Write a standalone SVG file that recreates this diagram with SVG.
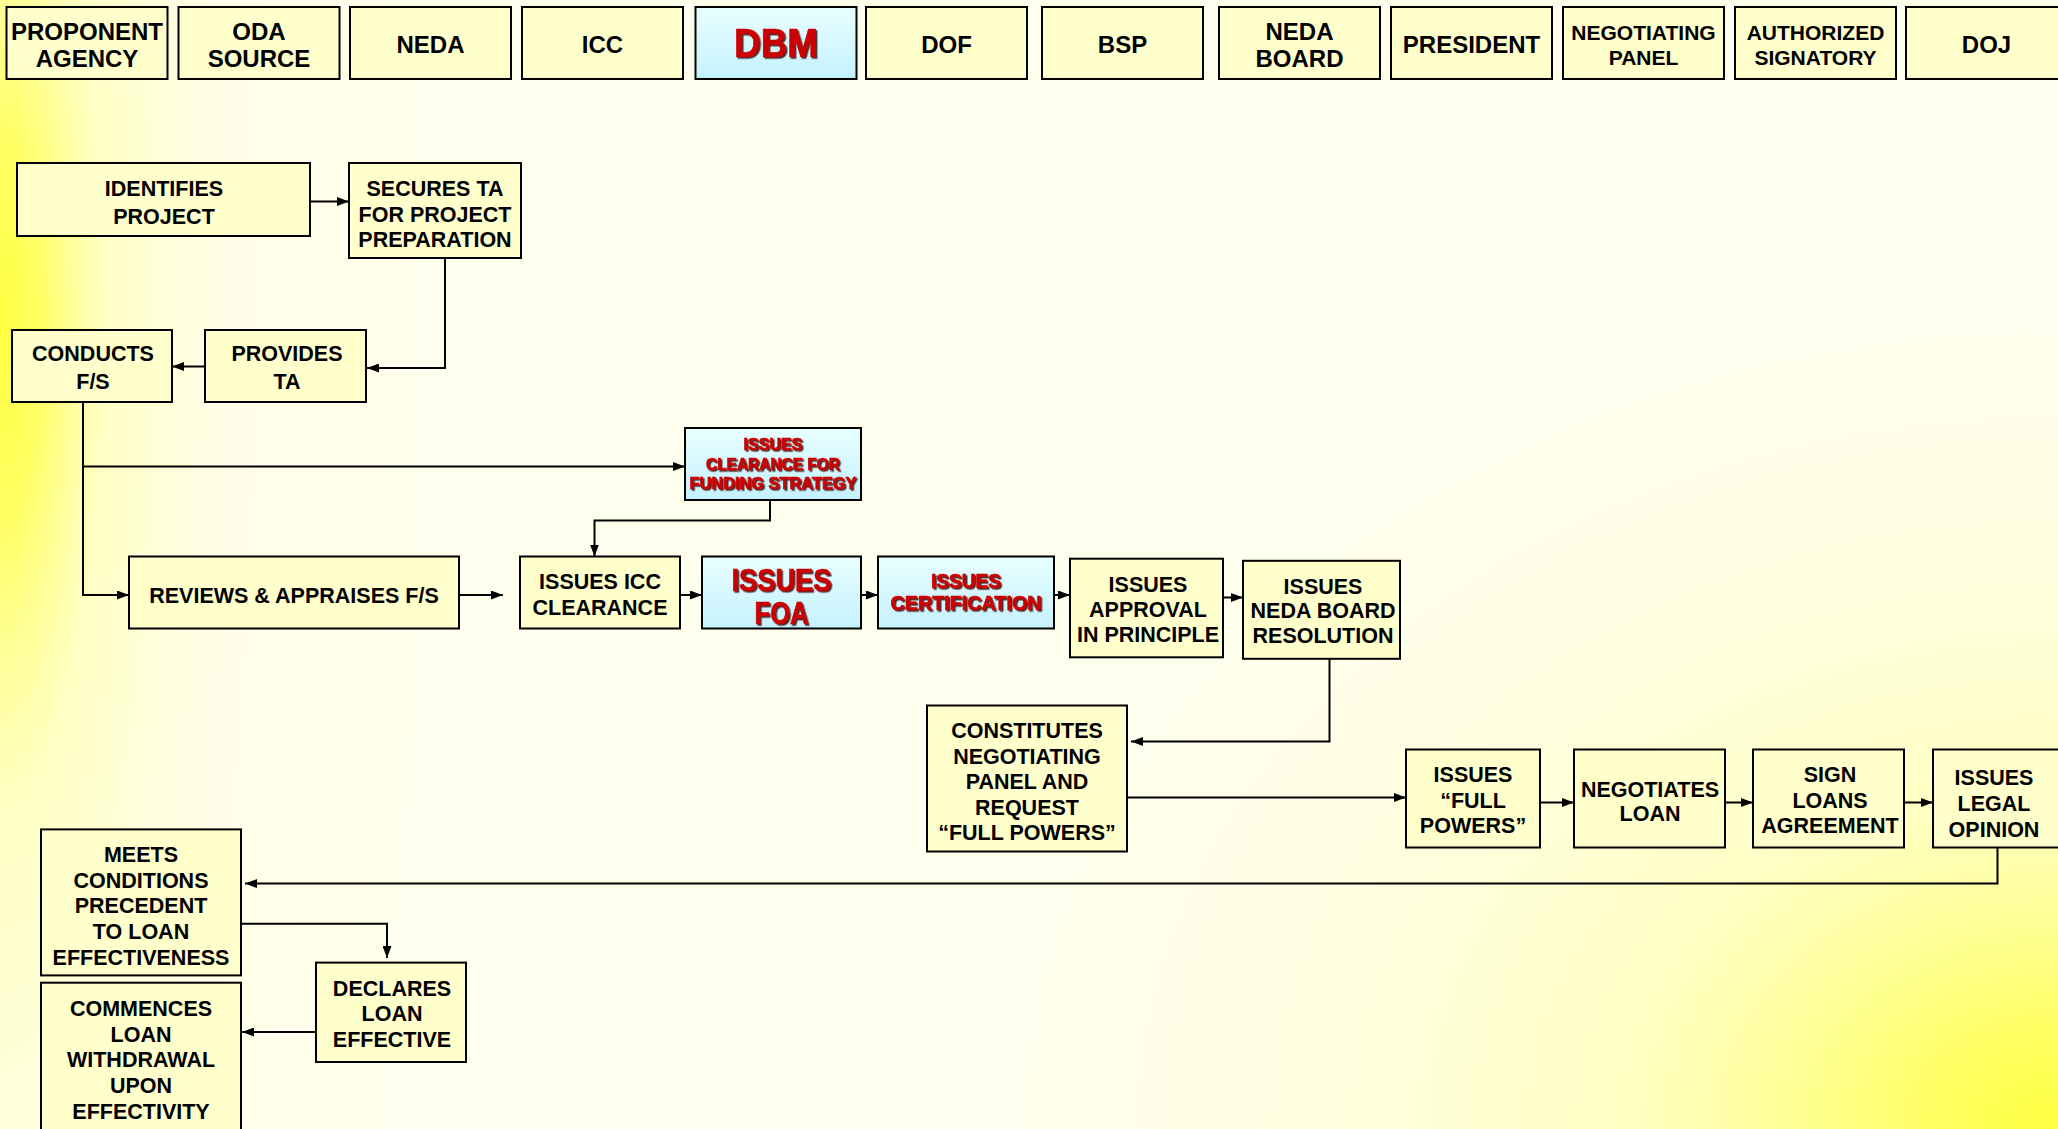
<svg xmlns="http://www.w3.org/2000/svg" width="2058" height="1129" viewBox="0 0 2058 1129">
<defs>
<radialGradient id="bgA" gradientUnits="userSpaceOnUse" cx="0" cy="0" r="1" gradientTransform="translate(0,330) scale(520,2400)">
<stop offset="0" stop-color="#FFFF40" stop-opacity="1"/>
<stop offset="0.08" stop-color="#FFFF55" stop-opacity="0.9"/>
<stop offset="0.2" stop-color="#FFFF99" stop-opacity="0.5"/>
<stop offset="0.45" stop-color="#FFFFCC" stop-opacity="0.15"/>
<stop offset="1" stop-color="#FFFFE0" stop-opacity="0"/>
</radialGradient>
<radialGradient id="bgB" gradientUnits="userSpaceOnUse" cx="0" cy="0" r="1" gradientTransform="translate(2058,1129) scale(1100,850)">
<stop offset="0" stop-color="#FFFF40" stop-opacity="1"/>
<stop offset="0.12" stop-color="#FFFF55" stop-opacity="0.9"/>
<stop offset="0.4" stop-color="#FFFF99" stop-opacity="0.5"/>
<stop offset="1" stop-color="#FFFFE0" stop-opacity="0"/>
</radialGradient>
<linearGradient id="blue" x1="0" y1="0" x2="0" y2="1">
<stop offset="0" stop-color="#E8FEFF"/>
<stop offset="1" stop-color="#C4F2FF"/>
</linearGradient>
<filter id="sh" x="-5%" y="-10%" width="115%" height="130%">
<feDropShadow dx="1.5" dy="1.5" stdDeviation="0.4" flood-color="#2a0000" flood-opacity="0.85"/>
</filter>
<marker id="ah" markerUnits="userSpaceOnUse" markerWidth="12" markerHeight="9" refX="12" refY="4.5" orient="auto">
<path d="M0,0 L12,4.5 L0,9 z" fill="#000"/>
</marker>
<style>
.box{fill:#FFFFCC;stroke:#000;stroke-width:2}
.bbox{fill:url(#blue);stroke:#000;stroke-width:2}
text{font-family:"Liberation Sans",Arial,Helvetica,sans-serif;font-weight:bold;text-anchor:middle;fill:#000}
.t{font-size:21.5px}
.h{font-size:24px}
.hs{font-size:21px}
.r{fill:#CC0000;stroke:#CC0000;stroke-width:0.7;filter:url(#sh)}
.c{fill:none;stroke:#000;stroke-width:2;marker-end:url(#ah)}
</style>
</defs>
<rect x="0" y="0" width="2058" height="1129" fill="#FFFFEE"/>
<rect x="0" y="0" width="2058" height="1129" fill="url(#bgA)"/>
<rect x="0" y="0" width="2058" height="1129" fill="url(#bgB)"/>

<g id="headers">
<g id="h-proponent"><rect class="box" x="6.5" y="7" width="161" height="72"/><text class="h" x="87" y="40" font-size="23.5">PROPONENT</text><text class="h" x="87" y="67">AGENCY</text></g>
<g id="h-oda"><rect class="box" x="178.5" y="7" width="161" height="72"/><text class="h" x="259" y="40">ODA</text><text class="h" x="259" y="67">SOURCE</text></g>
<g id="h-neda"><rect class="box" x="350" y="7" width="161" height="72"/><text class="h" x="430.5" y="52.6">NEDA</text></g>
<g id="h-icc"><rect class="box" x="522" y="7" width="161" height="72"/><text class="h" x="602.5" y="52.6">ICC</text></g>
<g id="h-dbm"><rect class="bbox" x="695.5" y="7" width="161" height="72"/><text class="r" x="776" y="57" style="font-size:41px" textLength="84" lengthAdjust="spacingAndGlyphs">DBM</text></g>
<g id="h-dof"><rect class="box" x="866" y="7" width="161" height="72"/><text class="h" x="946.5" y="52.6">DOF</text></g>
<g id="h-bsp"><rect class="box" x="1042" y="7" width="161" height="72"/><text class="h" x="1122.5" y="52.6">BSP</text></g>
<g id="h-nedaboard"><rect class="box" x="1219" y="7" width="161" height="72"/><text class="h" x="1299.5" y="40">NEDA</text><text class="h" x="1299.5" y="67">BOARD</text></g>
<g id="h-president"><rect class="box" x="1391" y="7" width="161" height="72"/><text class="h" x="1471.5" y="52.6">PRESIDENT</text></g>
<g id="h-negpanel"><rect class="box" x="1563" y="7" width="161" height="72"/><text class="hs" x="1643.5" y="40">NEGOTIATING</text><text class="hs" x="1643.5" y="65">PANEL</text></g>
<g id="h-authsig"><rect class="box" x="1735" y="7" width="161" height="72"/><text class="hs" x="1815.5" y="40">AUTHORIZED</text><text class="hs" x="1815.5" y="65">SIGNATORY</text></g>
<g id="h-doj"><rect class="box" x="1906" y="7" width="161" height="72"/><text class="h" x="1986.5" y="52.6">DOJ</text></g>
</g>

<g id="connectors">
<path class="c" d="M310,201.5 H349"/>
<path class="c" d="M445,258 V368 H367"/>
<path class="c" d="M205,366.5 H172"/>
<path class="c" d="M83,402 V595 H129"/>
<path class="c" d="M83,466.5 H685"/>
<path class="c" d="M770,500 V520.5 H594.5 V556.5"/>
<path class="c" d="M459,595 H503"/>
<path class="c" d="M680,595 H702"/>
<path class="c" d="M861,595 H878"/>
<path class="c" d="M1054,595 H1070"/>
<path class="c" d="M1223,597.5 H1243"/>
<path class="c" d="M1329.5,659 V741.5 H1131"/>
<path class="c" d="M1127,797.5 H1406"/>
<path class="c" d="M1540,802.5 H1574"/>
<path class="c" d="M1725,802.5 H1753"/>
<path class="c" d="M1904,802.5 H1933"/>
<path class="c" d="M1997.5,847.5 V883.5 H245"/>
<path class="c" d="M241,923.7 H387 V958"/>
<path class="c" d="M316,1032 H242"/>
</g>

<g id="n-identifies"><rect class="box" x="17" y="163" width="293" height="73"/><text class="t" x="164" y="195.7">IDENTIFIES</text><text class="t" x="164" y="223.7">PROJECT</text></g>
<g id="n-secures"><rect class="box" x="349" y="163" width="172" height="95"/><text class="t" x="435" y="196.3">SECURES TA</text><text class="t" x="435" y="221.5">FOR PROJECT</text><text class="t" x="435" y="246.7">PREPARATION</text></g>
<g id="n-provides"><rect class="box" x="205" y="330" width="161" height="72"/><text class="t" x="287" y="360.5">PROVIDES</text><text class="t" x="287" y="389.3">TA</text></g>
<g id="n-conducts"><rect class="box" x="12" y="330" width="160" height="72"/><text class="t" x="93" y="360.5">CONDUCTS</text><text class="t" x="93" y="389.3">F/S</text></g>
<g id="n-funding"><rect class="bbox" x="685" y="428" width="176" height="72"/><text class="r" x="773" y="449.5" style="font-size:17px" textLength="59" lengthAdjust="spacingAndGlyphs">ISSUES</text><text class="r" x="773" y="469.5" style="font-size:17px" textLength="134" lengthAdjust="spacingAndGlyphs">CLEARANCE FOR</text><text class="r" x="773" y="488.5" style="font-size:17px" textLength="167" lengthAdjust="spacingAndGlyphs">FUNDING STRATEGY</text></g>
<g id="n-reviews"><rect class="box" x="129" y="556.5" width="330" height="72"/><text class="t" x="294" y="603">REVIEWS &amp; APPRAISES F/S</text></g>
<g id="n-icc"><rect class="box" x="520" y="556.5" width="160" height="72"/><text class="t" x="600" y="589.4">ISSUES ICC</text><text class="t" x="600" y="614.7">CLEARANCE</text></g>
<g id="n-foa"><rect class="bbox" x="702" y="556.5" width="159" height="72"/><text class="r" x="781.5" y="591" style="font-size:31px" textLength="100" lengthAdjust="spacingAndGlyphs">ISSUES</text><text class="r" x="781.5" y="623.5" style="font-size:31px" textLength="54" lengthAdjust="spacingAndGlyphs">FOA</text></g>
<g id="n-cert"><rect class="bbox" x="878" y="556.5" width="176" height="72"/><text class="r" x="966" y="587.5" style="font-size:20px" textLength="70" lengthAdjust="spacingAndGlyphs">ISSUES</text><text class="r" x="966" y="609.5" style="font-size:20.5px" textLength="151" lengthAdjust="spacingAndGlyphs">CERTIFICATION</text></g>
<g id="n-approval"><rect class="box" x="1070" y="558.7" width="153" height="98.6"/><text class="t" x="1148" y="591.7">ISSUES</text><text class="t" x="1148" y="616.7">APPROVAL</text><text class="t" x="1148" y="641.7">IN PRINCIPLE</text></g>
<g id="n-resolution"><rect class="box" x="1243" y="560.8" width="157" height="98"/><text class="t" x="1323" y="593.7">ISSUES</text><text class="t" x="1323" y="618.2">NEDA BOARD</text><text class="t" x="1323" y="643.4">RESOLUTION</text></g>
<g id="n-constitutes"><rect class="box" x="927" y="705.5" width="200" height="146"/><text class="t" x="1027" y="738.4">CONSTITUTES</text><text class="t" x="1027" y="763.7">NEGOTIATING</text><text class="t" x="1027" y="788.7">PANEL AND</text><text class="t" x="1027" y="814.7">REQUEST</text><text class="t" x="1027" y="839.7">“FULL POWERS”</text></g>
<g id="n-fullpowers"><rect class="box" x="1406" y="749.5" width="134" height="98"/><text class="t" x="1473" y="782.4">ISSUES</text><text class="t" x="1473" y="807.7">“FULL</text><text class="t" x="1473" y="832.7">POWERS”</text></g>
<g id="n-negotiates"><rect class="box" x="1574" y="749.5" width="151" height="98"/><text class="t" x="1650" y="796.7">NEGOTIATES</text><text class="t" x="1650" y="821.2">LOAN</text></g>
<g id="n-sign"><rect class="box" x="1753" y="749.5" width="151" height="98"/><text class="t" x="1830" y="782.4">SIGN</text><text class="t" x="1830" y="807.7">LOANS</text><text class="t" x="1830" y="832.7">AGREEMENT</text></g>
<g id="n-legal"><rect class="box" x="1933" y="749.5" width="130" height="98"/><text class="t" x="1994" y="785.2">ISSUES</text><text class="t" x="1994" y="811.2">LEGAL</text><text class="t" x="1994" y="837.1">OPINION</text></g>
<g id="n-meets"><rect class="box" x="41" y="829.4" width="200" height="146"/><text class="t" x="141" y="862.3">MEETS</text><text class="t" x="141" y="888.2">CONDITIONS</text><text class="t" x="141" y="913.4">PRECEDENT</text><text class="t" x="141" y="939.3">TO LOAN</text><text class="t" x="141" y="965.2">EFFECTIVENESS</text></g>
<g id="n-commences"><rect class="box" x="41" y="982.7" width="200" height="160"/><text class="t" x="141" y="1015.7">COMMENCES</text><text class="t" x="141" y="1041.7">LOAN</text><text class="t" x="141" y="1066.7">WITHDRAWAL</text><text class="t" x="141" y="1092.7">UPON</text><text class="t" x="141" y="1118.7">EFFECTIVITY</text></g>
<g id="n-declares"><rect class="box" x="316" y="962.6" width="150" height="99.4"/><text class="t" x="392" y="995.5">DECLARES</text><text class="t" x="392" y="1020.7">LOAN</text><text class="t" x="392" y="1046.7">EFFECTIVE</text></g>
</svg>
